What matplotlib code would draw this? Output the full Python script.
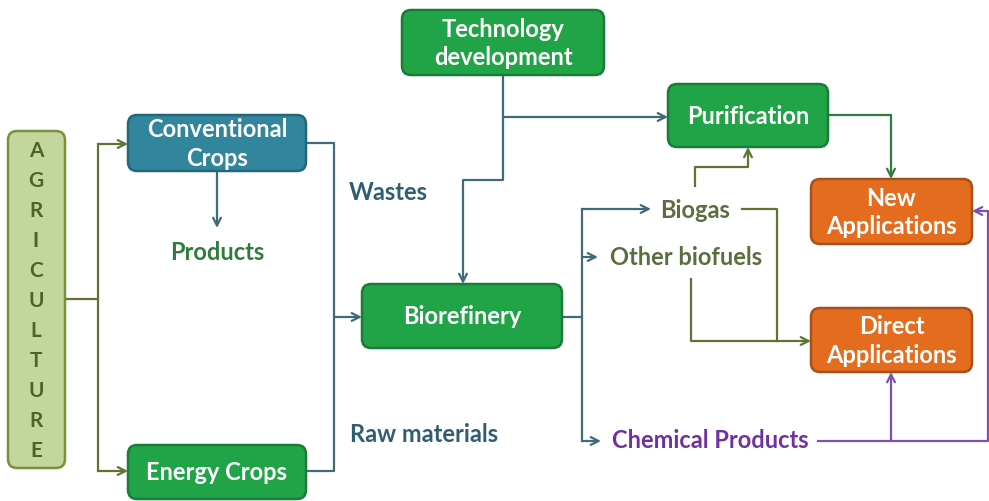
import matplotlib.pyplot as plt
from matplotlib.patches import FancyBboxPatch

plt.rcParams['font.family'] = ['Lato', 'DejaVu Sans']

# node labels
agri_letters = list("AGRICULTURE")
box_labels = ["Conventional\nCrops", "Energy Crops", "Technology\ndevelopment",
              "Biorefinery", "Purification", "New\nApplications", "Direct\nApplications"]
free_labels = ["Products", "Wastes", "Raw materials", "Biogas", "Other biofuels", "Chemical Products"]

# layout in pixels (x0, y0, x1, y1), y downwards
box_pos = [(128, 116, 306, 172), (128, 446, 306, 500), (402, 11, 604, 76),
           (362, 285, 562, 349), (668, 85, 828, 148), (811, 180, 972, 245), (811, 309, 972, 373)]
blue, green, orange = '#31859c', '#21a348', '#e46c1e'
box_face = [blue, green, green, green, green, orange, orange]
box_edge = ['#24667a', '#1a7d37', '#1a7d37', '#1a7d37', '#1a7d37', '#a9501a', '#a9501a']
free_pos = [(217, 253), (388, 193), (424, 435), (695, 211), (686, 258), (710, 441)]
free_col = ['#2e7d3c', '#2f5d72', '#2f5d72', '#5b6e40', '#5b6e40', '#7030a0']

fig = plt.figure(figsize=(9.89, 5.02), dpi=100)
ax = fig.add_axes([0, 0, 1, 1])
ax.set_xlim(0, 989)
ax.set_ylim(502, 0)
ax.axis('off')

def rbox(x0, y0, x1, y1, fc, ec):
    p = FancyBboxPatch((x0, y0), x1 - x0, y1 - y0,
                       boxstyle='round,pad=0,rounding_size=9',
                       fc=fc, ec=ec, lw=1.8, zorder=3)
    ax.add_patch(p)

def path(pts, color, arrow=True):
    xs = [p[0] for p in pts]
    ys = [p[1] for p in pts]
    if arrow:
        ax.plot(xs[:-1], ys[:-1], color=color, lw=1.6, zorder=2, solid_capstyle='butt')
        ax.annotate('', xy=pts[-1], xytext=pts[-2],
                    arrowprops=dict(arrowstyle='->', color=color, lw=1.6,
                                    shrinkA=0, shrinkB=0, mutation_scale=14), zorder=2)
    else:
        ax.plot(xs, ys, color=color, lw=1.6, zorder=2)

# AGRICULTURE column
rbox(8, 132, 65, 469, '#c3d69b', '#76923c')
for i, ch in enumerate(agri_letters):
    ax.text(36, 151 + i * 30, ch, ha='center', va='center', fontsize=15,
            fontweight='bold', color='#4f6228', zorder=4)

for (x0, y0, x1, y1), lab, fc, ec in zip(box_pos, box_labels, box_face, box_edge):
    rbox(x0, y0, x1, y1, fc, ec)
    ax.text((x0 + x1) / 2, (y0 + y1) / 2, lab, ha='center', va='center',
            fontsize=17, fontweight='bold', color='white', linespacing=1.3, zorder=4)

for (x, y), lab, c in zip(free_pos, free_labels, free_col):
    ax.text(x, y, lab, ha='center', va='center', fontsize=17, fontweight='bold', color=c, zorder=4)

olive = '#5e7432'
slate = '#3f6b7a'
dgreen = '#2e7d3c'
purple = '#7d4fb0'

# agriculture split
path([(65, 300), (98, 300)], olive, arrow=False)
path([(98, 145), (98, 472)], olive, arrow=False)
path([(98, 145), (128, 145)], olive)
path([(98, 472), (128, 472)], olive)

# conventional crops -> products
path([(217, 172), (217, 229)], slate)

# crops -> biorefinery
path([(306, 144), (334, 144), (334, 472), (306, 472)], slate, arrow=False)
path([(334, 318), (362, 318)], slate)

# technology development
path([(503, 76), (503, 181), (463, 181), (463, 285)], slate)
path([(503, 118), (668, 118)], slate)

# biorefinery outputs
path([(562, 318), (582, 318)], slate, arrow=False)
path([(582, 210), (582, 442)], slate, arrow=False)
path([(582, 210), (651, 210)], slate)
path([(582, 258), (598, 258)], slate)
path([(582, 442), (601, 442)], slate)

# biogas -> purification
path([(695, 188), (695, 168), (748, 168), (748, 148)], olive)
# biogas -> direct applications
path([(742, 210), (777, 210), (777, 342)], olive, arrow=False)
# other biofuels -> direct applications
path([(691, 279), (691, 342), (811, 342)], olive)

# purification -> new applications
path([(828, 116), (891, 116), (891, 180)], dgreen)

# chemical products
path([(817, 442), (988, 442), (988, 212), (972, 212)], purple)
path([(891, 442), (891, 373)], purple)

fig.savefig('out.png', dpi=100)
